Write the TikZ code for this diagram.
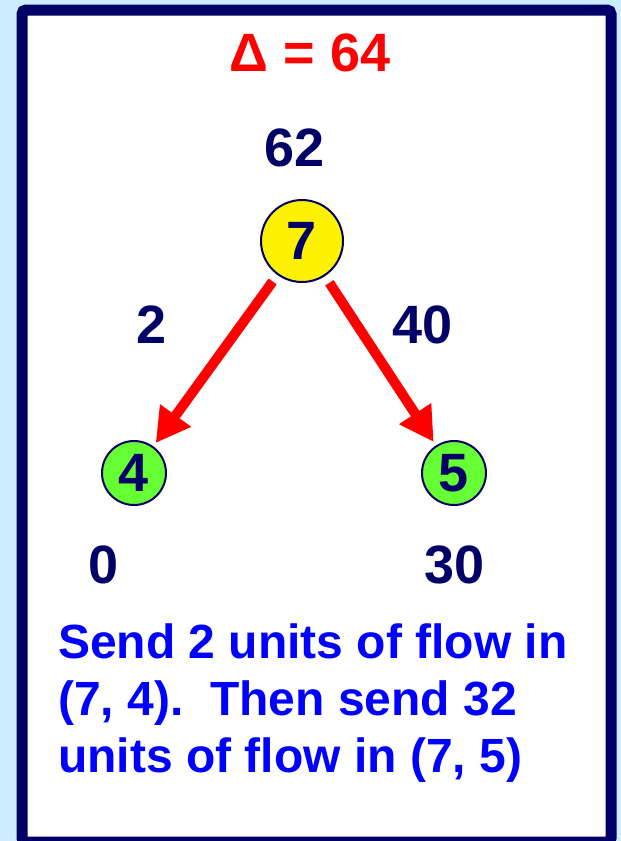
\documentclass[tikz,border=0pt]{standalone}
\usepackage{fontspec}
\setmainfont{Liberation Sans}
\usetikzlibrary{arrows.meta}

\definecolor{navy}{RGB}{0,0,102}
\definecolor{skyback}{RGB}{204,236,255}
\definecolor{leaf}{RGB}{102,255,51}
\definecolor{textblue}{RGB}{0,0,255}

\begin{document}
\begin{tikzpicture}[
    x=1pt, y=-1pt,
    font=\bfseries\fontsize{54}{60}\selectfont,
    vertex/.style={circle, draw=navy, line width=2pt, inner sep=0pt, text=navy},
    root/.style={vertex, fill=yellow, minimum size=82pt},
    leafnode/.style={vertex, fill=leaf, minimum size=64pt},
    num/.style={text=navy, inner sep=0pt},
    flow/.style={draw=red, line width=10pt, -{Triangle[length=34pt,width=36pt]}, shorten <=8pt, shorten >=4pt},
    frame/.style={draw=navy, fill=white, line width=11pt, rounded corners=4pt}
]

% page and frame
\useasboundingbox (0,0) rectangle (621,841);
\clip (0,0) rectangle (621,841);
\fill[skyback] (0,0) rectangle (621,841);
\draw[frame] (22,10) rectangle (611,842);

% heading
\node[text=red, inner sep=0pt] (delta) at (310,53) {Δ = 64};

% vertices
\node[root] (n7) at (302,241) {7};
\node[leafnode] (n4) at (134,473) {4};
\node[leafnode] (n5) at (454,473) {5};

% labels
\node[num] (e7) at (295,148) {62};
\node[num] (c74) at (152,325) {2};
\node[num] (c75) at (423,325) {40};
\node[num] (e4) at (104,565) {0};
\node[num] (e5) at (455,565) {30};

% flow arcs
\draw[flow] (n7) -- (n4);
\draw[flow] (n7) -- (n5);

% explanation
\node[anchor=north west, inner sep=0pt, align=left, text=textblue,
      font=\bfseries\fontsize{48}{57}\selectfont] (note) at (58,624)
    {Send 2 units of flow in\\(7, 4).\ \ Then send 32\\units of flow in (7, 5)};

\end{tikzpicture}
\end{document}
